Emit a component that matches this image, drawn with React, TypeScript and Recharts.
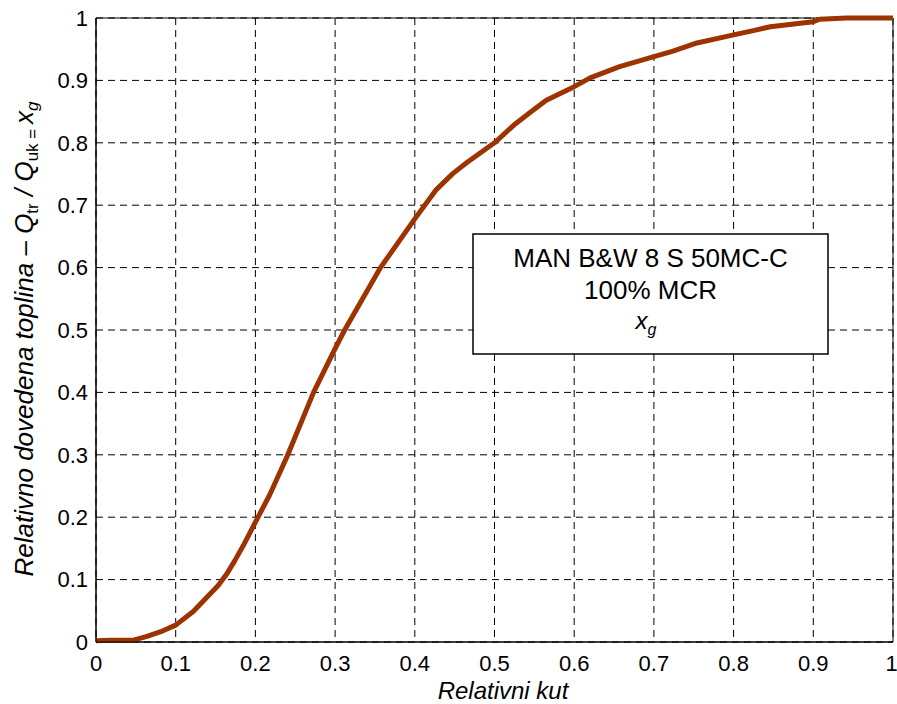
import React from "react"
import {
  LineChart,
  Line,
  XAxis,
  YAxis,
  CartesianGrid,
  ReferenceArea,
} from "recharts"

// relativni kut (x) i relativno dovedena toplina x_g (y), ocitano sa slike
const kut = [
  0, 0.018, 0.047, 0.064, 0.084, 0.1, 0.122, 0.153, 0.164, 0.174, 0.185, 0.2,
  0.218, 0.24, 0.273, 0.3, 0.312, 0.357, 0.4, 0.427, 0.448, 0.465, 0.5,
  0.524, 0.545, 0.565, 0.6, 0.62, 0.657, 0.7, 0.724, 0.754, 0.8, 0.829, 0.846,
  0.9, 0.908, 0.942, 1.0,
]
const xg = [
  0.002, 0.003, 0.003, 0.009, 0.018, 0.027, 0.049, 0.09, 0.109, 0.13, 0.155,
  0.192, 0.236, 0.298, 0.4, 0.47, 0.5, 0.6, 0.678, 0.725, 0.751, 0.768, 0.8,
  0.828, 0.849, 0.868, 0.89, 0.904, 0.922, 0.938, 0.947, 0.96, 0.973, 0.981,
  0.986, 0.994, 0.998, 1.0, 1.0,
]
const ticks = [0, 0.1, 0.2, 0.3, 0.4, 0.5, 0.6, 0.7, 0.8, 0.9, 1]
const legendLines = ["MAN B&W 8 S 50MC-C", "100% MCR"]

const data = kut.map((k, i) => ({ kut: k, xg: xg[i] }))

const FONT = '"Liberation Sans", Arial, Helvetica, sans-serif'
const fmt = (v: number) => String(v)

function XTitle() {
  return (
    <text
      x={503}
      y={699}
      textAnchor="middle"
      fontFamily={FONT}
      fontSize={24}
      fontStyle="italic"
      fill="#000"
    >
      Relativni kut
    </text>
  )
}

function YTitle() {
  const cx = 33
  const cy = 339
  return (
    <text
      x={cx}
      y={cy}
      transform={`rotate(-90, ${cx}, ${cy})`}
      textAnchor="middle"
      fontFamily={FONT}
      fontSize={26}
      fontStyle="italic"
      fill="#000"
    >
      Relativno dovedena toplina – Q
      <tspan fontStyle="normal" fontSize={17} dy={5}>
        tr
      </tspan>
      <tspan dy={-5}>{"\u00a0/\u00a0Q"}</tspan>
      <tspan fontStyle="normal" fontSize={17} dy={5}>
        {"uk\u00a0=\u00a0"}
      </tspan>
      <tspan dy={-5}>x</tspan>
      <tspan fontSize={17} dy={5}>
        g
      </tspan>
    </text>
  )
}

function LegendBox() {
  return (
    <g fontFamily={FONT} fill="#000">
      <rect
        x={473}
        y={234}
        width={355}
        height={120}
        fill="#fff"
        stroke="#000"
        strokeWidth={1.5}
      />
      {legendLines.map((t, i) => (
        <text key={t} x={650.5} y={267 + i * 32} textAnchor="middle" fontSize={26}>
          {t}
        </text>
      ))}
      <text x={646} y={329} textAnchor="middle" fontSize={24} fontStyle="italic">
        x
        <tspan fontSize={16} dy={6}>
          g
        </tspan>
      </text>
    </g>
  )
}

export default function App() {
  return (
    <div style={{ position: "absolute", left: 0, top: 0, background: "#fff" }}>
      <LineChart
        width={897}
        height={704}
        data={data}
        margin={{ top: 18, right: 4, bottom: 32, left: 0 }}
      >
        <CartesianGrid stroke="#000" strokeDasharray="7 5" />
        <XAxis
          dataKey="kut"
          type="number"
          domain={[0, 1]}
          ticks={ticks}
          tickFormatter={fmt}
          tickLine={false}
          tickSize={0}
          tickMargin={13}
          height={30}
          stroke="#000"
          tick={{ fill: "#000", fontSize: 22, fontFamily: FONT }}
          label={{ content: () => <XTitle /> }}
        />
        <YAxis
          type="number"
          domain={[0, 1]}
          ticks={ticks}
          tickFormatter={fmt}
          tickLine={false}
          tickSize={0}
          tickMargin={8}
          width={96}
          stroke="#000"
          tick={{ fill: "#000", fontSize: 22, fontFamily: FONT }}
          label={{ content: () => <YTitle /> }}
        />
        <ReferenceArea
          x1={0}
          x2={1}
          y1={0}
          y2={1}
          fill="none"
          stroke="#000"
          strokeWidth={1}
          fillOpacity={0}
        />
        <Line
          type="linear"
          dataKey="xg"
          stroke="#9c3300"
          strokeWidth={5}
          strokeLinejoin="round"
          dot={false}
          isAnimationActive={false}
        />
        <ReferenceArea
          x1={0}
          x2={1}
          y1={0}
          y2={1}
          fill="none"
          fillOpacity={0}
          stroke="none"
          label={{ content: () => <LegendBox /> }}
        />
      </LineChart>
    </div>
  )
}
